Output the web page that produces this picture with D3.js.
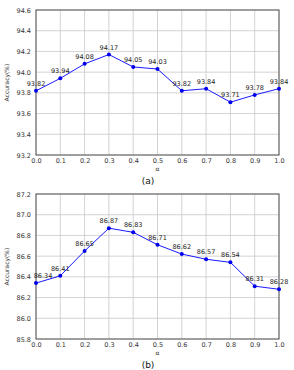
<!DOCTYPE html>
<html><head><meta charset="utf-8">
<script src="https://cdn.jsdelivr.net/npm/d3@7"></script>
<style>body{margin:0;background:#fff}svg{display:block}</style>
</head><body><svg id="c" width="294" height="370"></svg>
<script>
const alphas = [0.0,0.1,0.2,0.3,0.4,0.5,0.6,0.7,0.8,0.9,1.0];
const accA = [93.82,93.94,94.08,94.17,94.05,94.03,93.82,93.84,93.71,93.78,93.84];
const accB = [86.34,86.41,86.65,86.87,86.83,86.71,86.62,86.57,86.54,86.31,86.28];
const yTicksA = [93.2,93.4,93.6,93.8,94.0,94.2,94.4,94.6];
const yTicksB = [85.8,86.0,86.2,86.4,86.6,86.8,87.0,87.2];
const xTicks = [0.0,0.1,0.2,0.3,0.4,0.5,0.6,0.7,0.8,0.9,1.0];

const svg = d3.select("#c");
const font = "DejaVu Sans, sans-serif";

function panel(top, bottom, vals, yTicks, cap, firstShift) {
  const left = 36, right = 279;
  const x = d3.scaleLinear().domain([0,1]).range([left,right]);
  const y = d3.scaleLinear().domain([yTicks[0], yTicks[yTicks.length-1]]).range([bottom, top]);
  const g = svg.append("g");
  g.selectAll(".gx").data(xTicks).enter().append("line")
    .attr("x1", d=>x(d)).attr("x2", d=>x(d)).attr("y1", top).attr("y2", bottom)
    .attr("stroke", "#c8c8c8").attr("stroke-width", 0.8);
  g.selectAll(".gy").data(yTicks).enter().append("line")
    .attr("y1", d=>y(d)).attr("y2", d=>y(d)).attr("x1", left).attr("x2", right)
    .attr("stroke", "#c8c8c8").attr("stroke-width", 0.8);
  g.append("rect").attr("x", left).attr("y", top).attr("width", right-left).attr("height", bottom-top)
    .attr("fill", "none").attr("stroke", "#555").attr("stroke-width", 1);
  const xa = d3.axisBottom(x).tickValues(xTicks).tickFormat(d3.format(".1f")).tickSize(0).tickPadding(3);
  const gx = g.append("g").attr("transform", `translate(0,${bottom})`).call(xa);
  gx.select(".domain").remove();
  gx.selectAll("text").attr("font-family", font).attr("font-size", 6.5).attr("fill", "#333");
  const ya = d3.axisLeft(y).tickValues(yTicks).tickFormat(d3.format(".1f")).tickSize(0).tickPadding(5);
  const gy = g.append("g").attr("transform", `translate(${left},0)`).call(ya);
  gy.select(".domain").remove();
  gy.selectAll("text").attr("font-family", font).attr("font-size", 6.5).attr("fill", "#333");
  const line = d3.line().x((d,i)=>x(alphas[i])).y(d=>y(d));
  g.append("path").datum(vals).attr("d", line).attr("fill", "none").attr("stroke", "#1a1aff").attr("stroke-width", 1);
  g.selectAll(".pt").data(vals).enter().append("circle")
    .attr("cx", (d,i)=>x(alphas[i])).attr("cy", d=>y(d)).attr("r", 2).attr("fill", "#0000ee");
  g.selectAll(".lb").data(vals).enter().append("text")
    .attr("x", (d,i)=>x(alphas[i]) + (i===0 ? firstShift : 0)).attr("y", d=>y(d)-5)
    .attr("text-anchor", "middle").attr("font-family", font).attr("font-size", 6.5).attr("fill", "#222")
    .text(d=>d.toFixed(2));
  g.append("text").attr("x", (left+right)/2).attr("y", bottom+16).attr("text-anchor", "middle")
    .attr("font-family", font).attr("font-size", 6).attr("fill", "#333").text("α");
  g.append("text").attr("transform", `translate(9,${(top+bottom)/2}) rotate(-90)`).attr("text-anchor", "middle")
    .attr("font-family", font).attr("font-size", 6).attr("fill", "#333").text("Accuracy(%)");
  g.append("text").attr("x", 148).attr("y", bottom+29).attr("text-anchor", "middle")
    .attr("font-family", font).attr("font-size", 9).attr("fill", "#111").text(cap);
}
panel(10, 155, accA, yTicksA, "(a)", 0);
panel(194, 339, accB, yTicksB, "(b)", 7);
</script></body></html>
